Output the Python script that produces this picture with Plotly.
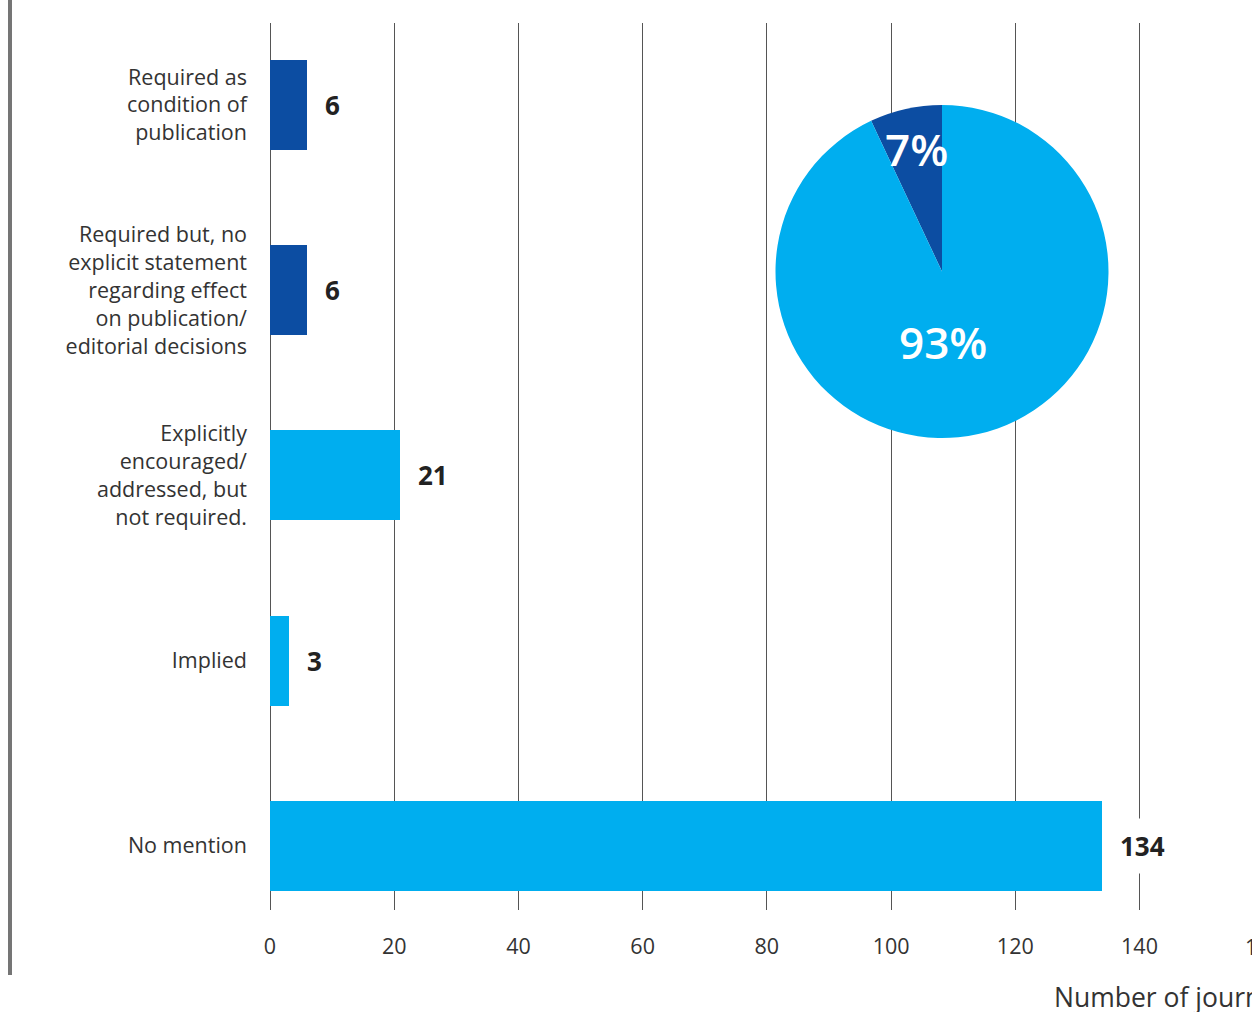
import plotly.graph_objects as go

categories = [
    "Required as<br>condition of<br>publication",
    "Required but, no<br>explicit statement<br>regarding effect<br>on publication/<br>editorial decisions",
    "Explicitly<br>encouraged/<br>addressed, but<br>not required.",
    "Implied",
    "No mention",
]
values = [6, 6, 21, 3, 134]
bar_colors = ["#0c4da2", "#0c4da2", "#00aeef", "#00aeef", "#00aeef"]

pie_labels = ["Required", "Not required"]
pie_values = [7, 93]
pie_text = ["7%", "93%"]
pie_colors = ["#0c4da2", "#00aeef"]

x_ticks = [0, 20, 40, 60, 80, 100, 120, 140]
extra_tick = "160"
x_title = "Number of journals"

W, H = 1252, 1012
L, R, T, B = 270, 0, 23, 102
pw, ph = W - L - R, H - T - B
px_per_unit = 6.2107
xmax = pw / px_per_unit

FONT = "Open Sans"
TXT = "#333333"

fig = go.Figure()
fig.add_trace(go.Bar(
    y=categories, x=values, orientation="h",
    marker=dict(color=bar_colors, line=dict(width=0)),
    width=0.486, hoverinfo="skip", showlegend=False,
))

fig.add_trace(go.Pie(
    labels=pie_labels, values=pie_values,
    marker=dict(colors=pie_colors, line=dict(width=0)),
    sort=False, direction="clockwise", rotation=-25.2,
    textinfo="none", hoverinfo="skip", showlegend=False,
    domain=dict(x=[(775 - L) / pw, (1109 - L) / pw],
                y=[(T + ph - 438) / ph, (T + ph - 105) / ph]),
))

annotations = []
for c, v in zip(categories, values):
    annotations.append(dict(
        x=v, y=c, xref="x", yref="y", text=str(v),
        showarrow=False, xanchor="left", yanchor="middle",
        xshift=8, borderpad=9, bgcolor="white",
        font=dict(family=FONT, size=26, color="#222222", weight=700),
    ))

# pie percentage labels
pie_pos = [(916.5, 148.5), (942.5, 342)]
for (px, py), t in zip(pie_pos, pie_text):
    annotations.append(dict(
        x=(px - L) / pw, y=(T + ph - py) / ph, xref="paper", yref="paper",
        text=t, showarrow=False, xanchor="center", yanchor="middle",
        font=dict(family=FONT, size=44, color="white", weight=600),
    ))

# clipped tick beyond the visible range
annotations.append(dict(
    x=(160 * px_per_unit) / pw, y=(T + ph - 947) / ph, xref="paper", yref="paper",
    text=extra_tick, showarrow=False, xanchor="center", yanchor="middle",
    font=dict(family=FONT, size=21.5, color=TXT),
))
# axis title (clipped at right edge)
annotations.append(dict(
    x=(1052 - L) / pw, y=(T + ph - 997) / ph, xref="paper", yref="paper",
    text=x_title, showarrow=False, xanchor="left", yanchor="middle",
    font=dict(family=FONT, size=26.5, color=TXT),
))

fig.update_layout(
    width=W, height=H,
    margin=dict(l=L, r=R, t=T, b=B, pad=0),
    paper_bgcolor="white", plot_bgcolor="white",
    font=dict(family=FONT, color=TXT),
    bargap=0,
    xaxis=dict(
        range=[0, xmax], tickvals=x_ticks, showgrid=True,
        gridcolor="#555555", gridwidth=1,
        zeroline=True, zerolinecolor="#555555", zerolinewidth=1,
        showline=False, ticks="", ticklabelstandoff=21,
        tickfont=dict(family=FONT, size=21.5, color=TXT), fixedrange=True,
    ),
    yaxis=dict(
        type="category", categoryorder="array", categoryarray=categories,
        range=[4.346, -0.4426], showgrid=False, zeroline=False, showline=False,
        ticks="", ticklabelstandoff=22,
        tickfont=dict(family=FONT, size=21.5, color=TXT), fixedrange=True,
    ),
    annotations=annotations,
    shapes=[dict(
        type="line", xref="paper", yref="paper",
        x0=(10 - L) / pw, x1=(10 - L) / pw,
        y0=(T + ph - 0) / ph + 0.01, y1=(T + ph - 975) / ph,
        line=dict(color="#757575", width=4),
    )],
)

fig.write_html("out.html", config={"displayModeBar": False})
